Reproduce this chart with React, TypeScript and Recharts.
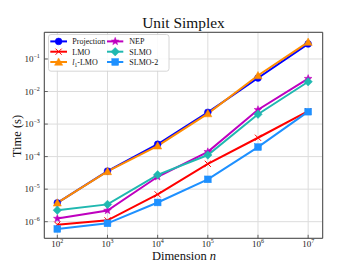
import React from 'react';
import { LineChart, Line, XAxis, YAxis, CartesianGrid, Legend } from 'recharts';

const dims = [1e2, 1e3, 1e4, 1e5, 1e6, 1e7];
const projection = [3.8e-6, 3.6e-5, 2.4e-4, 2.3e-3, 0.026, 0.29];
const lmo = [8.1e-7, 1.1e-6, 6.9e-6, 6.0e-5, 3.8e-4, 2.5e-3];
const l1lmo = [3.8e-6, 3.5e-5, 2.15e-4, 2.1e-3, 0.031, 0.33];
const nep = [1.25e-6, 2.2e-6, 2.4e-5, 1.4e-4, 2.75e-3, 0.0248];
const slmo = [2.26e-6, 3.4e-6, 2.75e-5, 1.12e-4, 2.0e-3, 0.02];
const slmo2 = [6.0e-7, 8.9e-7, 3.9e-6, 2.0e-5, 1.96e-4, 2.4e-3];

const xTicks = [1e2, 1e3, 1e4, 1e5, 1e6, 1e7];
const yTicks = [1e-6, 1e-5, 1e-4, 1e-3, 1e-2, 1e-1];

const title = 'Unit Simplex';
const xLabel = 'Dimension';
const yLabel = 'Time (s)';

type MarkerKind = 'circle' | 'x' | 'triangle' | 'star' | 'diamond' | 'square';

const series: { key: string; name: string; color: string; marker: MarkerKind; values: number[] }[] = [
  { key: 'projection', name: 'Projection', color: '#0000ff', marker: 'circle', values: projection },
  { key: 'lmo', name: 'LMO', color: '#ff0000', marker: 'x', values: lmo },
  { key: 'l1lmo', name: 'l1-LMO', color: '#ff8c00', marker: 'triangle', values: l1lmo },
  { key: 'nep', name: 'NEP', color: '#bf00bf', marker: 'star', values: nep },
  { key: 'slmo', name: 'SLMO', color: '#20b8b0', marker: 'diamond', values: slmo },
  { key: 'slmo2', name: 'SLMO-2', color: '#1e90ff', marker: 'square', values: slmo2 },
];

const data = dims.map((n, i) => {
  const row: Record<string, number> = { n };
  series.forEach((s) => {
    row[s.key] = s.values[i];
  });
  return row;
});

const FONT = '"Liberation Serif", "DejaVu Serif", serif';
const AXIS = '#444444';

function Marker({ kind, cx, cy, color }: { kind: MarkerKind; cx: number; cy: number; color: string }) {
  const r = 3.4;
  switch (kind) {
    case 'circle':
      return <circle cx={cx} cy={cy} r={r} fill={color} stroke={color} strokeWidth={0.5} />;
    case 'square':
      return <rect x={cx - r} y={cy - r} width={2 * r} height={2 * r} fill={color} stroke={color} strokeWidth={0.5} />;
    case 'diamond': {
      const d = r * 1.25;
      return (
        <polygon
          points={`${cx},${cy - d} ${cx + d},${cy} ${cx},${cy + d} ${cx - d},${cy}`}
          fill={color}
          stroke={color}
          strokeWidth={0.5}
        />
      );
    }
    case 'triangle': {
      const d = r * 1.2;
      return (
        <polygon
          points={`${cx},${cy - d} ${cx + d},${cy + d * 0.8} ${cx - d},${cy + d * 0.8}`}
          fill={color}
          stroke={color}
          strokeWidth={0.5}
        />
      );
    }
    case 'x': {
      const d = r * 0.9;
      return (
        <g stroke={color} strokeWidth={1}>
          <line x1={cx - d} y1={cy - d} x2={cx + d} y2={cy + d} />
          <line x1={cx - d} y1={cy + d} x2={cx + d} y2={cy - d} />
        </g>
      );
    }
    case 'star': {
      const outer = r * 1.2;
      const inner = outer * 0.42;
      const pts: string[] = [];
      for (let k = 0; k < 10; k++) {
        const rad = k % 2 === 0 ? outer : inner;
        const a = -Math.PI / 2 + (k * Math.PI) / 5;
        pts.push(`${cx + rad * Math.cos(a)},${cy + rad * Math.sin(a)}`);
      }
      return <polygon points={pts.join(' ')} fill={color} stroke={color} strokeWidth={0.5} />;
    }
  }
  return null;
}

function makeDot(kind: MarkerKind, color: string) {
  return (props: any) => {
    const { cx, cy, index } = props;
    if (cx == null || cy == null) return <g key={`d-${index}`} />;
    return (
      <g key={`d-${index}`}>
        <Marker kind={kind} cx={cx} cy={cy} color={color} />
      </g>
    );
  };
}

function expText(v: number) {
  const e = Math.round(Math.log10(v));
  return e < 0 ? `\u2212${-e}` : `${e}`;
}

const YTick = (props: any) => {
  const { x, y, payload } = props;
  return (
    <g>
      <line x1={x} x2={x + 3.5} y1={y} y2={y} stroke={AXIS} strokeWidth={0.8} />
      <text x={x - 4.5} y={y + 3.2} textAnchor="end" fontFamily={FONT} fontSize={9} fill="#222">
        10
        <tspan dy={-4.2} fontSize={6}>
          {expText(payload.value)}
        </tspan>
      </text>
    </g>
  );
};

const XTick = (props: any) => {
  const { x, y, payload } = props;
  return (
    <g>
      <line x1={x} x2={x} y1={y} y2={y - 3.5} stroke={AXIS} strokeWidth={0.8} />
      <text x={x} y={y + 8.7} textAnchor="middle" fontFamily={FONT} fontSize={9} fill="#222">
        10
        <tspan dy={-4.2} fontSize={6}>
          {expText(payload.value)}
        </tspan>
      </text>
    </g>
  );
};

const LegendBox = () => {
  const rows = [7.4, 17.7, 28];
  const cols = [
    { lx1: 2.3, lx2: 19, mx: 10.6, tx: 24.3 },
    { lx1: 59, lx2: 75.3, mx: 67.2, tx: 81.3 },
  ];
  return (
    <svg width={122} height={38} style={{ display: 'block' }}>
      <rect x={0.5} y={0.5} width={120.5} height={36.7} rx={2.5} fill="#ffffff" fillOpacity={0.85} stroke="#cccccc" strokeWidth={0.8} />
      {series.map((s, i) => {
        const c = cols[Math.floor(i / 3)];
        const ry = rows[i % 3];
        return (
          <g key={s.key}>
            <line x1={c.lx1} x2={c.lx2} y1={ry} y2={ry} stroke={s.color} strokeWidth={2} />
            <Marker kind={s.marker} cx={c.mx} cy={ry} color={s.color} />
            {s.key === 'l1lmo' ? (
              <text x={c.tx} y={ry + 2.8} fontFamily={FONT} fontSize={8} fill="#111">
                <tspan fontStyle="italic">l</tspan>
                <tspan fontSize={5.5} dy={1.8}>1</tspan>
                <tspan dy={-1.8}>-LMO</tspan>
              </text>
            ) : (
              <text x={c.tx} y={ry + 2.8} fontFamily={FONT} fontSize={8} fill="#111">
                {s.name}
              </text>
            )}
          </g>
        );
      })}
    </svg>
  );
};

export default function App() {
  const W = 357;
  const H = 268;
  const left = 43.3;
  const top = 31.3;
  const right = 357 - 322.7 - 1;
  const bottom = 268 - 238.3 - 1;
  return (
    <div style={{ position: 'absolute', left: 0, top: 0, width: W, height: H, background: '#fff' }}>
      <LineChart width={W} height={H} data={data} margin={{ top, right, bottom, left }}>
        <CartesianGrid stroke="#dcdcdc" strokeWidth={1} />
        <XAxis
          dataKey="n"
          type="number"
          scale="log"
          domain={[55, 1.95e7]}
          allowDataOverflow
          ticks={xTicks}
          height={1}
          tickSize={0}
          tickMargin={0}
          tickLine={false}
          tick={<XTick />}
          axisLine={{ stroke: AXIS, strokeWidth: 1 }}
          interval={0}
        />
        <XAxis
          xAxisId="top"
          orientation="top"
          dataKey="n"
          type="number"
          scale="log"
          domain={[55, 1.95e7]}
          allowDataOverflow
          height={1}
          tick={false}
          tickLine={false}
          axisLine={{ stroke: AXIS, strokeWidth: 1 }}
        />
        <YAxis
          type="number"
          scale="log"
          domain={[3.09e-7, 0.66]}
          allowDataOverflow
          ticks={yTicks}
          width={1}
          tickSize={0}
          tickMargin={0}
          tickLine={false}
          tick={<YTick />}
          axisLine={{ stroke: AXIS, strokeWidth: 1 }}
          interval={0}
        />
        <YAxis
          yAxisId="right"
          orientation="right"
          type="number"
          scale="log"
          domain={[3.09e-7, 0.66]}
          allowDataOverflow
          width={1}
          tick={false}
          tickLine={false}
          axisLine={{ stroke: AXIS, strokeWidth: 1 }}
        />
        {series.map((s) => (
          <Line
            key={s.key}
            dataKey={s.key}
            name={s.name}
            stroke={s.color}
            strokeWidth={2}
            dot={makeDot(s.marker, s.color)}
            activeDot={false}
            isAnimationActive={false}
          />
        ))}
        <Legend
          layout="horizontal"
          verticalAlign="middle"
          content={() => <LegendBox />}
          wrapperStyle={{ position: 'absolute', left: 47.5, top: 34, width: 122, height: 38 }}
        />
      </LineChart>
      <svg
        width={W}
        height={H}
        style={{ position: 'absolute', left: 0, top: 0, pointerEvents: 'none' }}
      >
        <text x={183.5} y={28.3} textAnchor="middle" fontFamily={FONT} fontSize={15.4} fill="#111">
          {title}
        </text>
        <text x={184} y={260} textAnchor="middle" fontFamily={FONT} fontSize={12.5} fill="#111">
          {xLabel} <tspan fontStyle="italic">n</tspan>
        </text>
        <text
          x={0}
          y={0}
          transform="translate(21, 136) rotate(-90)"
          textAnchor="middle"
          fontFamily={FONT}
          fontSize={12.5}
          fill="#111"
        >
          {yLabel}
        </text>
      </svg>
    </div>
  );
}
